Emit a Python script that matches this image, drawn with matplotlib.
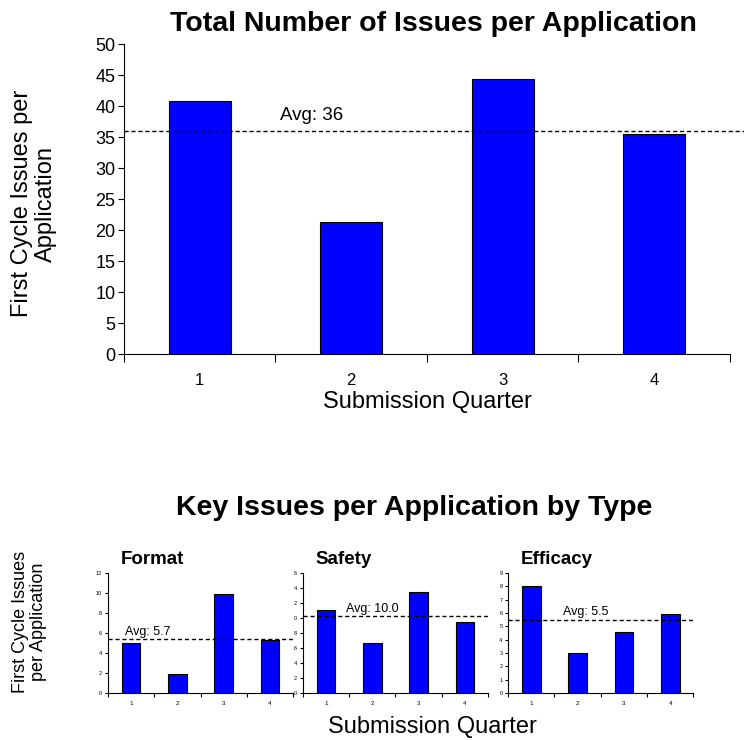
import matplotlib
matplotlib.use("Agg")
import matplotlib.pyplot as plt
import numpy as np

plt.rcParams['font.family'] = ['Liberation Sans', 'DejaVu Sans']

# --- datos ---
quarters = ["1", "2", "3", "4"]
total_issues = [40.8, 21.3, 44.4, 35.5]
total_avg = 35.9
total_avg_label = "Avg: 36"

panel_names = ["Format", "Safety", "Efficacy"]
panel_values = [
    [5.0, 1.9, 9.9, 5.3],
    [11.0, 6.6, 13.4, 9.4],
    [8.0, 3.0, 4.6, 5.9],
]
panel_avg = [5.4, 10.2, 5.5]
panel_avg_labels = ["Avg: 5.7", "Avg: 10.0", "Avg: 5.5"]
panel_ymax = [12, 16, 9]
panel_ystep = [2, 2, 1]
# las etiquetas de Safety salen recortadas en el original
panel_yticklabels = [
    ["0", "2", "4", "6", "8", "10", "12"],
    ["0", "2", "4", "6", "8", "0", "2", "4", "6"],
    ["0", "1", "2", "3", "4", "5", "6", "7", "8", "9"],
]

BLUE = "#0000FF"

fig = plt.figure(figsize=(7.44, 7.40), dpi=100)


def estilo_ejes(ax, n, ysize, xsize, ticklen, xpad):
    for s in ["top", "right"]:
        ax.spines[s].set_visible(False)
    ax.spines["left"].set_linewidth(0.8)
    ax.spines["bottom"].set_linewidth(0.8)
    ax.set_xlim(0.5, n + 0.5)
    # marcas en los limites de categoria, etiquetas en el centro
    ax.set_xticks(np.arange(0.5, n + 1, 1.0))
    ax.set_xticklabels([])
    ax.set_xticks(np.arange(1, n + 1), minor=True)
    ax.set_xticklabels(quarters, minor=True, fontsize=xsize)
    ax.tick_params(axis="x", which="major", direction="out", length=ticklen, width=0.8)
    ax.tick_params(axis="x", which="minor", length=0, pad=xpad)
    ax.tick_params(axis="y", direction="out", length=ticklen * 0.7, width=0.8,
                   labelsize=ysize, pad=2)


# --- grafico principal ---
ax = fig.add_axes([0.1667, 0.5216, 0.8143, 0.4189])
x = np.arange(1, len(quarters) + 1)
ax.bar(x, total_issues, width=0.41, color=BLUE, edgecolor="black", linewidth=0.8)
ax.set_ylim(0, 50)
ax.set_yticks(np.arange(0, 51, 5))
estilo_ejes(ax, len(quarters), 13, 12, 6, 14)
ax.plot([0.5, 4.62], [total_avg, total_avg], ls="--", color="black", lw=1.0,
        dashes=(3, 2), clip_on=False)
ax.text(1.53, total_avg + 1.2, total_avg_label, fontsize=13.5, va="bottom")
ax.set_xlabel("Submission Quarter", fontsize=17, labelpad=2)

fig.text(0.582, 0.968, "Total Number of Issues per Application", fontsize=20.5,
         fontweight="bold", ha="center", va="center")
fig.text(0.046, 0.725, "First Cycle Issues per\nApplication", fontsize=17,
         rotation=90, ha="center", va="center", linespacing=1.12)

# --- paneles por tipo ---
lefts = [0.145, 0.407, 0.683]
for i, name in enumerate(panel_names):
    a = fig.add_axes([lefts[i], 0.0635, 0.249, 0.1622])
    a.bar(x, panel_values[i], width=0.4, color=BLUE, edgecolor="black", linewidth=0.8)
    a.set_ylim(0, panel_ymax[i])
    yt = np.arange(0, panel_ymax[i] + 0.1, panel_ystep[i])
    a.set_yticks(yt)
    a.set_yticklabels(panel_yticklabels[i])
    estilo_ejes(a, len(quarters), 4, 4.5, 3, 6)
    a.axhline(panel_avg[i], ls="--", color="black", lw=1.0, dashes=(3, 2))
    xt = [0.87, 1.44, 1.68][i]
    a.text(xt, panel_avg[i] + 0.01 * panel_ymax[i], panel_avg_labels[i],
           fontsize=9, va="bottom")
    a.text(0.07, 1.04, name, transform=a.transAxes, fontsize=13.5,
           fontweight="bold", va="bottom", ha="left")

fig.text(0.557, 0.313, "Key Issues per Application by Type", fontsize=20.5,
         fontweight="bold", ha="center", va="center")
fig.text(0.581, 0.018, "Submission Quarter", fontsize=17, ha="center", va="center")
fig.text(0.04, 0.16, "First Cycle Issues\nper Application", fontsize=13,
         rotation=90, ha="center", va="center", linespacing=1.05)

fig.savefig("out.png", dpi=100)
